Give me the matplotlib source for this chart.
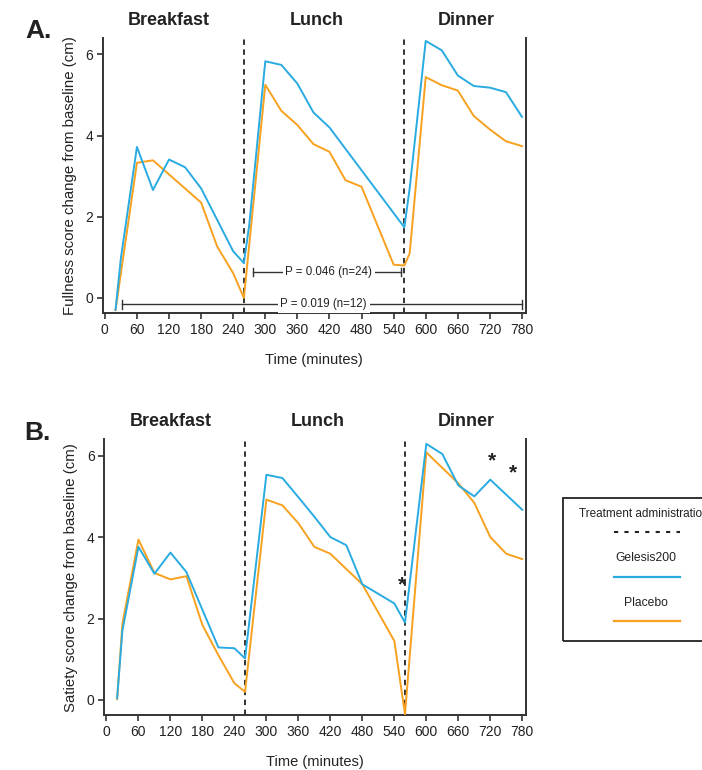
import matplotlib
matplotlib.use("Agg")
import matplotlib.pyplot as plt
from matplotlib.lines import Line2D
from matplotlib.patches import Rectangle

plt.rcParams['font.family'] = ['Liberation Sans', 'DejaVu Sans']

# ---------------- data ----------------
# Panel A: fullness
a_gel_t = [20, 30, 60, 90, 120, 150, 180, 240, 260, 270, 300, 330, 360, 390, 420, 560, 570, 600, 630, 660, 690, 720, 750, 780]
a_gel_v = [-0.29, 0.98, 3.72, 2.66, 3.41, 3.22, 2.70, 1.15, 0.86, 1.80, 5.83, 5.74, 5.28, 4.57, 4.20, 1.74, 2.70, 6.33, 6.10, 5.48, 5.22, 5.18, 5.07, 4.46]
a_pla_t = [20, 60, 90, 180, 210, 240, 260, 300, 330, 360, 390, 420, 450, 480, 540, 560, 570, 600, 630, 660, 690, 720, 750, 780]
a_pla_v = [-0.30, 3.33, 3.39, 2.35, 1.27, 0.61, 0.00, 5.25, 4.61, 4.26, 3.79, 3.60, 2.90, 2.74, 0.82, 0.80, 1.10, 5.44, 5.24, 5.11, 4.48, 4.15, 3.86, 3.74]

# Panel B: satiety
b_gel_t = [20, 30, 60, 90, 120, 150, 210, 240, 260, 300, 330, 360, 390, 420, 450, 480, 540, 560, 600, 630, 660, 690, 720, 780]
b_gel_v = [0.04, 1.71, 3.76, 3.10, 3.62, 3.14, 1.29, 1.27, 1.02, 5.53, 5.45, 4.98, 4.50, 4.00, 3.80, 2.84, 2.37, 1.90, 6.29, 6.04, 5.27, 5.00, 5.41, 4.67]
b_pla_t = [20, 30, 60, 90, 120, 150, 180, 210, 240, 260, 300, 330, 360, 390, 420, 480, 540, 560, 600, 630, 660, 690, 720, 750, 780]
b_pla_v = [0.02, 1.88, 3.94, 3.12, 2.96, 3.04, 1.84, 1.10, 0.41, 0.20, 4.92, 4.78, 4.34, 3.76, 3.59, 2.84, 1.45, -0.35, 6.08, 5.70, 5.32, 4.84, 4.00, 3.59, 3.46]

treatment_times = [260, 560]
meals = ["Breakfast", "Lunch", "Dinner"]
meal_centers = [120, 397, 675]
x_ticks = list(range(0, 781, 60))
y_ticks = [0, 2, 4, 6]

# annotations
a_brackets = [(277, 554, 0.64, 419, "P = 0.046 (n=24)"),
              (33, 780, -0.16, 409, "P = 0.019 (n=12)")]
b_stars_t = [554, 724, 763]
b_stars_v = [2.82, 5.88, 5.57]

BLUE = '#29ABE2'
ORANGE = '#F7A11F'
SPINE = '#333333'

fig = plt.figure(figsize=(7.02, 7.70), dpi=100)
axA = fig.add_axes([0.1463, 0.5935, 0.6026, 0.357])
axB = fig.add_axes([0.1486, 0.0714, 0.6007, 0.358])


def style(ax, ylabel):
    ax.set_xlim(-4, 787)
    ax.set_ylim(-0.37, 6.4)
    ax.set_xticks(x_ticks)
    ax.set_yticks(y_ticks)
    ax.spines['top'].set_visible(False)
    for s in ['left', 'right', 'bottom']:
        ax.spines[s].set_color(SPINE)
        ax.spines[s].set_linewidth(1.4)
    ax.tick_params(direction='out', length=4, width=1.2, color=SPINE,
                   labelsize=10, labelcolor='#222222', pad=3)
    ax.set_xlabel("Time (minutes)", fontsize=10.5, color='#222222', labelpad=12)
    ax.set_ylabel(ylabel, fontsize=10.8, color='#222222', labelpad=6)
    for t in treatment_times:
        ax.axvline(t, color='#222222', lw=1.3, ls=(0, (3, 2.5)), zorder=1)
    for name, c in zip(meals, meal_centers):
        ax.text(c, 1.065, name, transform=ax.get_xaxis_transform(),
                ha='center', va='center', fontsize=13, fontweight='bold', color='#222222')


style(axA, "Fullness score change from baseline (cm)")
style(axB, "Satiety score change from baseline (cm)")

axA.plot(a_pla_t, a_pla_v, color=ORANGE, lw=1.4, zorder=3)
axA.plot(a_gel_t, a_gel_v, color=BLUE, lw=1.4, zorder=4)
axB.plot(b_pla_t, b_pla_v, color=ORANGE, lw=1.4, zorder=3)
axB.plot(b_gel_t, b_gel_v, color=BLUE, lw=1.4, zorder=4)

for x0, x1, y, tx, label in a_brackets:
    axA.plot([x0, x1], [y, y], color='#333333', lw=1.0, zorder=2)
    for xe in (x0, x1):
        axA.plot([xe, xe], [y - 0.1, y + 0.1], color='#333333', lw=1.0, zorder=2)
    axA.text(tx, y, label, ha='center', va='center', fontsize=8.3, color='#222222', zorder=5,
             bbox=dict(facecolor='white', edgecolor='none', pad=2))

for t, v in zip(b_stars_t, b_stars_v):
    axB.text(t, v, '*', ha='center', va='center', fontsize=15, fontweight='bold', color='#222222', zorder=6)

fig.text(39 / 702, 1 - 31 / 770, "A.", fontsize=19, fontweight='bold', ha='center', va='center', color='#222222')
fig.text(37 / 702, 1 - 433 / 770, "B.", fontsize=19, fontweight='bold', ha='center', va='center', color='#222222')

# legend box (manual); its title runs past the right edge as in the reference
W, H = 702.0, 770.0
fig.patches.append(Rectangle((563 / W, 1 - 641 / H), 160 / W, (641 - 498) / H,
                             transform=fig.transFigure, fill=False, edgecolor='#222222', lw=1.3))
fig.text(579 / W, 1 - 514 / H, "Treatment administration", fontsize=8.5, ha='left', va='center', color='#222222')
fig.lines.append(Line2D([614 / W, 680 / W], [1 - 532 / H, 1 - 532 / H], transform=fig.transFigure,
                        color='#222222', lw=1.5, ls=(0, (2, 3))))
fig.text(646 / W, 1 - 558 / H, "Gelesis200", fontsize=8.7, ha='center', va='center', color='#222222')
fig.lines.append(Line2D([614 / W, 680 / W], [1 - 577 / H, 1 - 577 / H], transform=fig.transFigure,
                        color=BLUE, lw=1.6))
fig.text(646 / W, 1 - 603 / H, "Placebo", fontsize=8.7, ha='center', va='center', color='#222222')
fig.lines.append(Line2D([614 / W, 680 / W], [1 - 621 / H, 1 - 621 / H], transform=fig.transFigure,
                        color=ORANGE, lw=1.6))

fig.savefig("out.png", dpi=100, facecolor='white')
